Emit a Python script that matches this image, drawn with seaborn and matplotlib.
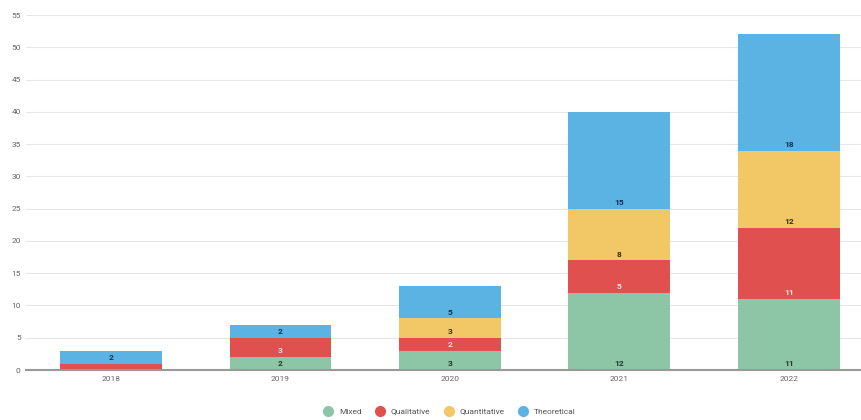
import pandas as pd
import numpy as np
import matplotlib
matplotlib.use('Agg')
import matplotlib.pyplot as plt
import seaborn as sns
from matplotlib.lines import Line2D

# values
years = ['2018', '2019', '2020', '2021', '2022']
mixed = [0, 2, 3, 12, 11]
qualitative = [1, 3, 2, 5, 11]
quantitative = [0, 0, 3, 8, 12]
theoretical = [2, 2, 5, 15, 18]

methods = ['Mixed', 'Qualitative', 'Quantitative', 'Theoretical']
colors = ['#8cc6a6', '#e0504f', '#f1c865', '#5bb3e4']
label_colors = ['#1e3a2b', '#ffe4e4', '#3b2f05', '#0e2f57']

df = pd.DataFrame({'year': years, 'Mixed': mixed, 'Qualitative': qualitative,
                   'Quantitative': quantitative, 'Theoretical': theoretical})

sns.set_style('white')
plt.rcParams['font.family'] = ['Roboto', 'DejaVu Sans']

fig = plt.figure(figsize=(8.61, 4.2), dpi=100)
ax = fig.add_axes([0.0305, 0.119, 0.984, 0.845])

bottom = np.zeros(len(years))
for m, c, lc in zip(methods, colors, label_colors):
    vals = df[m].to_numpy()
    sns.barplot(x='year', y=m, data=df, color=c, bottom=bottom, width=0.6,
                saturation=1, linewidth=0, edgecolor=c, ax=ax, zorder=2)
    for i, v in enumerate(vals):
        if v >= 2:
            ax.annotate(str(v), (i, bottom[i]), xytext=(0, 2), textcoords='offset points',
                        ha='center', va='bottom', fontsize=6, fontweight='bold', color=lc)
    bottom = bottom + vals

ax.set_ylim(0, 55)
ax.set_xlim(-0.5, 4.5)
ax.set_yticks(range(0, 56, 5))
ax.yaxis.grid(True, color='#e6e6e6', linewidth=0.8, zorder=0)
ax.set_axisbelow(True)
ax.tick_params(axis='both', length=0, labelsize=6, labelcolor='#666666', pad=4)
for s in ['top', 'right', 'left']:
    ax.spines[s].set_visible(False)
ax.spines['bottom'].set_color('#999999')
ax.spines['bottom'].set_linewidth(1.5)
ax.set_xlabel('')
ax.set_ylabel('')

handles = [Line2D([0], [0], marker='o', linestyle='', markersize=7,
                  markerfacecolor=c, markeredgecolor=c) for c in colors]
fig.legend(handles, methods, loc='lower center', ncol=4, frameon=False,
           fontsize=6, labelcolor='#555555', bbox_to_anchor=(0.52, -0.005),
           handletextpad=0.3, columnspacing=1.2)

fig.savefig('out.png', dpi=100)
